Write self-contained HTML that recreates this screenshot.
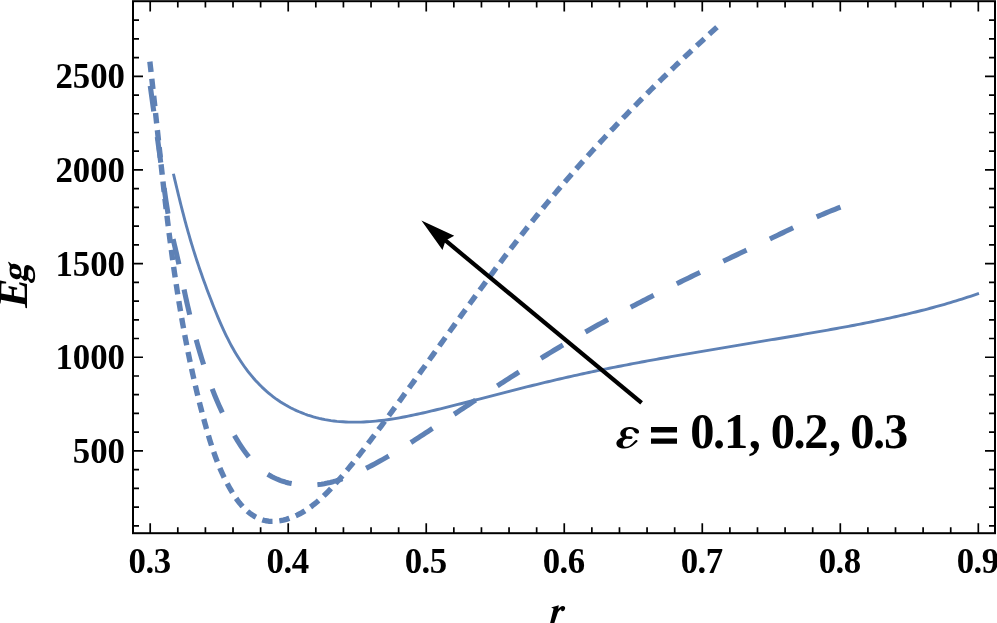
<!DOCTYPE html>
<html><head><meta charset="utf-8"><style>
html,body{margin:0;padding:0;background:#fff;overflow:hidden;width:997px;height:623px;}
svg{display:block;will-change:transform;font-family:"Liberation Serif",serif;}
</style></head><body>
<svg width="997" height="623" viewBox="0 0 997 623"><rect width="997" height="623" fill="#fff"/><g fill="none" stroke-linejoin="round"><path d="M173.41,173.75 L174.09,176.65 L174.77,179.55 L175.46,182.45 L176.15,185.36 L176.85,188.27 L177.55,191.18 L178.25,194.09 L178.96,197.00 L179.68,199.91 L180.40,202.83 L181.13,205.74 L181.87,208.65 L182.62,211.55 L183.37,214.46 L184.13,217.36 L184.90,220.27 L185.68,223.16 L186.47,226.06 L187.27,228.95 L188.08,231.84 L188.91,234.72 L189.74,237.60 L190.58,240.47 L191.44,243.34 L192.31,246.20 L193.19,249.06 L194.08,251.91 L194.99,254.76 L195.90,257.60 L196.83,260.44 L197.77,263.28 L198.72,266.11 L199.68,268.94 L200.65,271.76 L201.64,274.58 L202.63,277.40 L203.63,280.21 L204.65,283.02 L205.68,285.83 L206.71,288.64 L207.76,291.44 L208.82,294.25 L209.89,297.05 L210.97,299.84 L212.05,302.64 L213.15,305.44 L214.26,308.23 L215.39,311.02 L216.52,313.81 L217.68,316.59 L218.85,319.36 L220.03,322.12 L221.24,324.88 L222.47,327.62 L223.72,330.36 L225.00,333.08 L226.30,335.79 L227.63,338.48 L228.99,341.15 L230.38,343.81 L231.80,346.45 L233.26,349.07 L234.75,351.66 L236.28,354.24 L237.84,356.79 L239.45,359.32 L241.09,361.82 L242.78,364.29 L244.50,366.74 L246.27,369.15 L248.08,371.53 L249.94,373.87 L251.84,376.18 L253.78,378.44 L255.76,380.67 L257.79,382.85 L259.86,384.99 L261.98,387.09 L264.14,389.13 L266.35,391.13 L268.61,393.07 L270.91,394.96 L273.26,396.79 L275.65,398.57 L278.10,400.29 L280.59,401.94 L283.13,403.54 L285.71,405.07 L288.33,406.54 L290.98,407.95 L293.68,409.29 L296.41,410.57 L299.17,411.78 L301.96,412.92 L304.77,414.00 L307.61,415.01 L310.48,415.95 L313.36,416.83 L316.27,417.63 L319.19,418.36 L322.12,419.02 L325.07,419.61 L328.02,420.13 L330.99,420.59 L333.96,420.98 L336.94,421.32 L339.92,421.59 L342.91,421.81 L345.89,421.98 L348.88,422.09 L351.87,422.16 L354.85,422.17 L357.83,422.15 L360.81,422.08 L363.78,421.96 L366.76,421.81 L369.73,421.62 L372.70,421.38 L375.66,421.11 L378.63,420.81 L381.59,420.47 L384.55,420.10 L387.51,419.70 L390.46,419.27 L393.42,418.81 L396.37,418.32 L399.32,417.81 L402.26,417.27 L405.21,416.71 L408.15,416.14 L411.09,415.54 L414.03,414.92 L416.97,414.29 L419.91,413.64 L422.84,412.98 L425.77,412.31 L428.70,411.62 L431.63,410.93 L434.55,410.23 L437.48,409.52 L440.40,408.80 L443.32,408.09 L446.24,407.37 L449.16,406.64 L452.07,405.92 L454.99,405.19 L457.90,404.45 L460.81,403.72 L463.72,402.98 L466.63,402.25 L469.54,401.51 L472.44,400.76 L475.35,400.02 L478.25,399.28 L481.16,398.53 L484.06,397.79 L486.96,397.04 L489.87,396.30 L492.77,395.55 L495.67,394.81 L498.57,394.07 L501.47,393.32 L504.37,392.58 L507.28,391.84 L510.18,391.10 L513.08,390.36 L515.98,389.63 L518.88,388.90 L521.78,388.17 L524.68,387.44 L527.59,386.71 L530.49,385.99 L533.39,385.27 L536.30,384.56 L539.20,383.85 L542.11,383.14 L545.02,382.44 L547.93,381.74 L550.84,381.05 L553.75,380.36 L556.66,379.68 L559.57,379.00 L562.49,378.33 L565.40,377.66 L568.32,377.00 L571.24,376.35 L574.16,375.70 L577.08,375.05 L580.00,374.41 L582.93,373.78 L585.85,373.15 L588.78,372.52 L591.70,371.91 L594.63,371.29 L597.56,370.68 L600.49,370.08 L603.43,369.47 L606.36,368.88 L609.29,368.29 L612.23,367.70 L615.17,367.11 L618.10,366.53 L621.04,365.96 L623.98,365.38 L626.92,364.82 L629.86,364.25 L632.81,363.69 L635.75,363.13 L638.69,362.58 L641.64,362.03 L644.58,361.48 L647.53,360.93 L650.48,360.39 L653.42,359.85 L656.37,359.32 L659.32,358.79 L662.27,358.26 L665.22,357.73 L668.17,357.20 L671.12,356.68 L674.07,356.16 L677.03,355.64 L679.98,355.12 L682.93,354.61 L685.89,354.10 L688.84,353.59 L691.80,353.08 L694.75,352.57 L697.71,352.07 L700.66,351.56 L703.62,351.06 L706.58,350.56 L709.53,350.06 L712.49,349.56 L715.45,349.06 L718.41,348.57 L721.36,348.07 L724.32,347.58 L727.28,347.08 L730.24,346.59 L733.20,346.10 L736.16,345.60 L739.11,345.11 L742.07,344.62 L745.03,344.13 L747.99,343.64 L750.95,343.14 L753.91,342.65 L756.86,342.16 L759.82,341.67 L762.78,341.18 L765.74,340.68 L768.70,340.19 L771.65,339.69 L774.61,339.20 L777.57,338.70 L780.52,338.21 L783.48,337.71 L786.44,337.21 L789.39,336.71 L792.35,336.21 L795.30,335.71 L798.26,335.20 L801.21,334.70 L804.17,334.19 L807.12,333.68 L810.07,333.17 L813.02,332.66 L815.98,332.14 L818.93,331.63 L821.88,331.11 L824.83,330.59 L827.78,330.06 L830.73,329.53 L833.67,329.01 L836.62,328.47 L839.57,327.94 L842.51,327.40 L845.46,326.85 L848.40,326.31 L851.34,325.75 L854.28,325.20 L857.22,324.63 L860.16,324.07 L863.10,323.49 L866.03,322.92 L868.97,322.33 L871.90,321.74 L874.83,321.14 L877.76,320.54 L880.69,319.93 L883.62,319.31 L886.54,318.69 L889.47,318.06 L892.39,317.42 L895.31,316.77 L898.23,316.11 L901.14,315.45 L904.06,314.77 L906.97,314.09 L909.88,313.40 L912.79,312.69 L915.69,311.98 L918.60,311.26 L921.50,310.53 L924.40,309.79 L927.30,309.03 L930.19,308.27 L933.08,307.49 L935.97,306.70 L938.86,305.90 L941.74,305.09 L944.62,304.27 L947.50,303.43 L950.38,302.58 L953.25,301.72 L956.12,300.85 L958.99,299.96 L961.85,299.06 L964.72,298.14 L967.57,297.21 L970.43,296.27 L973.28,295.31 L976.13,294.33 L978.98,293.34" stroke="#5e81b5" stroke-width="2.9"/><path d="M150.13,85.01 L150.53,87.98 L150.94,90.95 L151.34,93.92 L151.75,96.88 L152.16,99.85 L152.57,102.82 L152.98,105.78 L153.39,108.75 L153.80,111.71 L154.21,114.68 L154.62,117.64 L155.04,120.61 L155.45,123.58 L155.86,126.54 L156.27,129.51 L156.68,132.47 L157.08,135.44 L157.49,138.41 L157.90,141.38 L158.30,144.34 L158.71,147.31 L159.11,150.28 L159.51,153.25 L159.91,156.22 L160.30,159.19 L160.70,162.16 L161.09,165.13 L161.48,168.11 L161.87,171.08 L162.26,174.05 L162.65,177.03 L163.05,180.00 L163.45,182.97 L163.85,185.94 L164.26,188.91 L164.67,191.88 L165.10,194.84 L165.53,197.81 L165.97,200.77 L166.42,203.73 L166.89,206.68 L167.36,209.64 L167.85,212.58 L168.36,215.53 L168.88,218.47 L169.42,221.41 L169.97,224.34 L170.55,227.26 L171.14,230.19 L171.76,233.10 L172.40,236.01 L173.05,238.92 L173.73,241.82 L174.41,244.71 L175.10,247.61 L175.78,250.51 L176.46,253.41 L177.13,256.31 L177.79,259.21 L178.44,262.12 L179.07,265.03 L179.69,267.94 L180.29,270.86 L180.89,273.78 L181.48,276.71 L182.06,279.63 L182.65,282.56 L183.25,285.50 L183.84,288.43 L184.45,291.36 L185.07,294.29 L185.71,297.23 L186.35,300.16 L187.01,303.09 L187.67,306.02 L188.35,308.95 L189.04,311.88 L189.74,314.81 L190.46,317.73 L191.18,320.65 L191.92,323.56 L192.66,326.48 L193.42,329.39 L194.19,332.29 L194.97,335.19 L195.75,338.09 L196.55,340.98 L197.37,343.86 L198.19,346.74 L199.02,349.61 L199.87,352.48 L200.73,355.34 L201.60,358.19 L202.49,361.04 L203.39,363.88 L204.31,366.71 L205.25,369.54 L206.20,372.36 L207.17,375.18 L208.16,377.98 L209.16,380.79 L210.19,383.58 L211.24,386.36 L212.30,389.14 L213.39,391.92 L214.50,394.68 L215.63,397.43 L216.79,400.18 L217.97,402.92 L219.17,405.66 L220.40,408.38 L221.66,411.10 L222.94,413.80 L224.25,416.50 L225.58,419.19 L226.95,421.88 L228.34,424.55 L229.77,427.22 L231.22,429.87 L232.70,432.52 L234.22,435.16 L235.76,437.78 L237.34,440.40 L238.96,442.99 L240.62,445.57 L242.32,448.10 L244.06,450.60 L245.85,453.06 L247.69,455.46 L249.58,457.81 L251.53,460.09 L253.53,462.31 L255.60,464.44 L257.73,466.50 L259.93,468.46 L262.19,470.33 L264.53,472.10 L266.94,473.76 L269.42,475.30 L271.98,476.73 L274.61,478.04 L277.30,479.24 L280.05,480.33 L282.85,481.30 L285.70,482.17 L288.58,482.92 L291.50,483.56 L294.45,484.10 L297.42,484.52 L300.41,484.84 L303.42,485.06 L306.43,485.16 L309.44,485.17 L312.44,485.07 L315.44,484.87 L318.42,484.57 L321.38,484.17 L324.33,483.67 L327.26,483.09 L330.17,482.42 L333.06,481.67 L335.94,480.85 L338.80,479.96 L341.65,479.00 L344.48,477.98 L347.29,476.90 L350.09,475.77 L352.87,474.59 L355.63,473.36 L358.38,472.10 L361.11,470.81 L363.83,469.48 L366.53,468.13 L369.22,466.76 L371.89,465.37 L374.55,463.96 L377.20,462.53 L379.83,461.09 L382.45,459.63 L385.06,458.15 L387.65,456.66 L390.24,455.15 L392.81,453.63 L395.38,452.10 L397.94,450.55 L400.49,449.00 L403.03,447.43 L405.57,445.85 L408.09,444.26 L410.62,442.67 L413.13,441.07 L415.65,439.45 L418.16,437.84 L420.66,436.22 L423.16,434.59 L425.66,432.96 L428.16,431.32 L430.66,429.69 L433.16,428.05 L435.65,426.41 L438.15,424.76 L440.65,423.12 L443.14,421.48 L445.64,419.83 L448.14,418.19 L450.63,416.54 L453.13,414.89 L455.63,413.25 L458.13,411.60 L460.63,409.95 L463.13,408.30 L465.63,406.66 L468.13,405.01 L470.63,403.37 L473.13,401.72 L475.64,400.08 L478.14,398.43 L480.65,396.79 L483.16,395.15 L485.66,393.51 L488.17,391.87 L490.68,390.24 L493.20,388.60 L495.71,386.97 L498.22,385.34 L500.74,383.71 L503.26,382.08 L505.78,380.46 L508.30,378.84 L510.83,377.22 L513.35,375.61 L515.88,374.00 L518.41,372.39 L520.94,370.78 L523.48,369.18 L526.01,367.58 L528.55,365.99 L531.09,364.40 L533.63,362.81 L536.18,361.23 L538.73,359.65 L541.28,358.08 L543.83,356.51 L546.39,354.95 L548.95,353.39 L551.51,351.84 L554.08,350.29 L556.65,348.74 L559.22,347.21 L561.79,345.67 L564.37,344.15 L566.95,342.63 L569.54,341.11 L572.12,339.60 L574.71,338.10 L577.31,336.60 L579.90,335.11 L582.50,333.62 L585.11,332.14 L587.71,330.66 L590.32,329.19 L592.93,327.73 L595.55,326.27 L598.17,324.81 L600.79,323.36 L603.41,321.92 L606.03,320.48 L608.66,319.04 L611.29,317.61 L613.93,316.18 L616.56,314.76 L619.20,313.34 L621.84,311.93 L624.48,310.52 L627.13,309.12 L629.78,307.72 L632.43,306.33 L635.08,304.94 L637.73,303.55 L640.39,302.17 L643.05,300.79 L645.71,299.42 L648.37,298.05 L651.04,296.68 L653.71,295.32 L656.37,293.96 L659.05,292.60 L661.72,291.25 L664.39,289.90 L667.07,288.56 L669.75,287.22 L672.43,285.88 L675.11,284.55 L677.79,283.22 L680.48,281.89 L683.16,280.56 L685.85,279.24 L688.54,277.92 L691.23,276.61 L693.92,275.29 L696.62,273.98 L699.31,272.68 L702.01,271.37 L704.71,270.07 L707.41,268.77 L710.11,267.48 L712.81,266.18 L715.51,264.89 L718.21,263.60 L720.91,262.30 L723.62,261.02 L726.32,259.73 L729.03,258.44 L731.73,257.15 L734.44,255.87 L737.14,254.58 L739.85,253.30 L742.55,252.01 L745.26,250.73 L747.96,249.44 L750.66,248.15 L753.37,246.86 L756.07,245.58 L758.77,244.28 L761.48,242.99 L764.18,241.70 L766.88,240.41 L769.58,239.11 L772.27,237.81 L774.97,236.51 L777.67,235.21 L780.36,233.91 L783.06,232.61 L785.76,231.31 L788.46,230.01 L791.16,228.72 L793.86,227.43 L796.57,226.15 L799.28,224.87 L801.99,223.60 L804.70,222.34 L807.42,221.09 L810.15,219.85 L812.88,218.62 L815.61,217.40 L818.35,216.19 L821.10,215.00 L823.85,213.82 L826.61,212.65 L829.38,211.50 L832.16,210.37 L834.94,209.26 L837.74,208.16 L840.54,207.09" stroke="#5e81b5" stroke-width="5.1" stroke-dasharray="25.8 25.867" stroke-dashoffset="50.86"/><path d="M149.86,61.53 L150.20,64.49 L150.54,67.45 L150.87,70.41 L151.21,73.37 L151.54,76.34 L151.87,79.30 L152.20,82.27 L152.53,85.23 L152.86,88.20 L153.18,91.17 L153.51,94.14 L153.83,97.11 L154.15,100.08 L154.47,103.06 L154.79,106.03 L155.11,109.01 L155.43,111.98 L155.75,114.96 L156.07,117.94 L156.39,120.92 L156.71,123.89 L157.03,126.87 L157.35,129.85 L157.67,132.83 L157.99,135.82 L158.31,138.80 L158.63,141.78 L158.95,144.76 L159.27,147.75 L159.59,150.73 L159.91,153.72 L160.23,156.70 L160.56,159.69 L160.88,162.67 L161.21,165.66 L161.54,168.64 L161.87,171.63 L162.20,174.61 L162.53,177.60 L162.86,180.59 L163.20,183.57 L163.53,186.56 L163.87,189.55 L164.21,192.53 L164.56,195.52 L164.90,198.51 L165.25,201.49 L165.60,204.48 L165.95,207.46 L166.31,210.45 L166.67,213.44 L167.03,216.42 L167.39,219.40 L167.76,222.39 L168.13,225.37 L168.50,228.36 L168.88,231.34 L169.25,234.32 L169.64,237.30 L170.02,240.29 L170.41,243.27 L170.81,246.25 L171.20,249.23 L171.61,252.21 L172.01,255.18 L172.42,258.16 L172.83,261.14 L173.25,264.11 L173.67,267.09 L174.10,270.06 L174.53,273.04 L174.97,276.01 L175.41,278.98 L175.85,281.95 L176.30,284.92 L176.76,287.89 L177.22,290.86 L177.68,293.82 L178.16,296.79 L178.63,299.75 L179.11,302.71 L179.60,305.67 L180.09,308.63 L180.59,311.59 L181.10,314.55 L181.61,317.51 L182.13,320.46 L182.65,323.41 L183.18,326.36 L183.71,329.31 L184.26,332.26 L184.81,335.21 L185.36,338.15 L185.92,341.10 L186.49,344.04 L187.07,346.98 L187.65,349.92 L188.24,352.85 L188.84,355.79 L189.44,358.72 L190.05,361.65 L190.67,364.58 L191.30,367.51 L191.94,370.43 L192.58,373.35 L193.23,376.28 L193.89,379.19 L194.55,382.11 L195.23,385.03 L195.91,387.94 L196.60,390.85 L197.30,393.76 L198.01,396.66 L198.72,399.56 L199.45,402.47 L200.18,405.36 L200.93,408.26 L201.68,411.15 L202.44,414.04 L203.21,416.93 L203.99,419.82 L204.78,422.70 L205.58,425.58 L206.39,428.46 L207.21,431.34 L208.04,434.21 L208.89,437.07 L209.76,439.94 L210.65,442.79 L211.57,445.64 L212.50,448.48 L213.47,451.32 L214.46,454.15 L215.48,456.97 L216.53,459.78 L217.62,462.58 L218.74,465.37 L219.90,468.16 L221.10,470.93 L222.35,473.69 L223.63,476.43 L224.97,479.17 L226.35,481.89 L227.78,484.60 L229.26,487.29 L230.80,489.97 L232.39,492.63 L234.04,495.25 L235.76,497.82 L237.56,500.34 L239.42,502.77 L241.36,505.12 L243.39,507.37 L245.51,509.50 L247.71,511.50 L250.02,513.37 L252.42,515.07 L254.92,516.61 L257.52,517.97 L260.21,519.12 L262.96,520.06 L265.79,520.75 L268.66,521.20 L271.58,521.39 L274.52,521.34 L277.47,521.09 L280.40,520.65 L283.31,520.05 L286.18,519.31 L288.99,518.43 L291.75,517.44 L294.47,516.33 L297.14,515.11 L299.76,513.78 L302.33,512.35 L304.87,510.83 L307.36,509.21 L309.81,507.51 L312.22,505.74 L314.59,503.88 L316.92,501.97 L319.22,499.98 L321.48,497.95 L323.71,495.86 L325.91,493.72 L328.08,491.54 L330.22,489.33 L332.32,487.09 L334.41,484.82 L336.46,482.53 L338.49,480.23 L340.50,477.93 L342.49,475.61 L344.46,473.29 L346.40,470.97 L348.33,468.64 L350.24,466.31 L352.14,463.97 L354.02,461.62 L355.88,459.27 L357.74,456.92 L359.58,454.56 L361.41,452.20 L363.23,449.84 L365.05,447.47 L366.85,445.10 L368.66,442.72 L370.45,440.34 L372.25,437.96 L374.04,435.58 L375.83,433.19 L377.61,430.80 L379.40,428.41 L381.18,426.02 L382.96,423.62 L384.74,421.22 L386.51,418.82 L388.29,416.42 L390.06,414.01 L391.83,411.60 L393.59,409.19 L395.36,406.78 L397.13,404.37 L398.89,401.95 L400.65,399.54 L402.41,397.12 L404.17,394.70 L405.93,392.28 L407.68,389.85 L409.44,387.43 L411.19,385.00 L412.95,382.58 L414.70,380.15 L416.45,377.72 L418.20,375.29 L419.96,372.86 L421.71,370.42 L423.46,367.99 L425.21,365.56 L426.96,363.12 L428.71,360.69 L430.45,358.25 L432.20,355.82 L433.95,353.38 L435.70,350.95 L437.45,348.51 L439.20,346.07 L440.95,343.64 L442.70,341.20 L444.45,338.76 L446.21,336.33 L447.96,333.89 L449.71,331.45 L451.47,329.02 L453.22,326.58 L454.98,324.15 L456.73,321.71 L458.49,319.28 L460.25,316.85 L462.01,314.42 L463.77,311.99 L465.54,309.56 L467.30,307.13 L469.07,304.70 L470.84,302.27 L472.61,299.85 L474.38,297.42 L476.15,295.00 L477.93,292.58 L479.71,290.16 L481.49,287.74 L483.27,285.32 L485.05,282.91 L486.84,280.50 L488.63,278.08 L490.42,275.67 L492.22,273.27 L494.01,270.86 L495.81,268.46 L497.62,266.06 L499.42,263.66 L501.23,261.26 L503.04,258.87 L504.86,256.48 L506.68,254.09 L508.50,251.71 L510.32,249.32 L512.15,246.94 L513.98,244.56 L515.82,242.19 L517.66,239.82 L519.50,237.45 L521.35,235.08 L523.20,232.72 L525.06,230.36 L526.91,228.01 L528.78,225.66 L530.65,223.31 L532.52,220.96 L534.39,218.62 L536.28,216.29 L538.16,213.95 L540.05,211.62 L541.95,209.30 L543.85,206.98 L545.75,204.66 L547.66,202.35 L549.57,200.04 L551.49,197.73 L553.42,195.43 L555.35,193.13 L557.28,190.84 L559.22,188.55 L561.16,186.27 L563.11,183.99 L565.07,181.71 L567.02,179.44 L568.99,177.17 L570.95,174.91 L572.93,172.65 L574.90,170.39 L576.88,168.14 L578.87,165.89 L580.86,163.65 L582.85,161.41 L584.85,159.17 L586.85,156.94 L588.86,154.71 L590.87,152.49 L592.89,150.27 L594.91,148.05 L596.94,145.84 L598.97,143.63 L601.00,141.43 L603.04,139.23 L605.08,137.03 L607.13,134.84 L609.18,132.65 L611.23,130.46 L613.29,128.28 L615.35,126.10 L617.42,123.93 L619.49,121.76 L621.56,119.59 L623.64,117.43 L625.72,115.27 L627.81,113.12 L629.90,110.96 L631.99,108.82 L634.09,106.67 L636.19,104.53 L638.30,102.39 L640.41,100.26 L642.52,98.13 L644.63,96.01 L646.75,93.88 L648.88,91.76 L651.00,89.65 L653.13,87.54 L655.27,85.43 L657.41,83.33 L659.55,81.22 L661.69,79.13 L663.84,77.03 L665.99,74.94 L668.14,72.86 L670.30,70.77 L672.46,68.69 L674.63,66.62 L676.79,64.54 L678.96,62.47 L681.14,60.41 L683.32,58.34 L685.50,56.28 L687.68,54.23 L689.87,52.18 L692.05,50.13 L694.25,48.08 L696.44,46.04 L698.64,44.00 L700.84,41.96 L703.05,39.93 L705.25,37.90 L707.46,35.88 L709.68,33.85 L711.89,31.83 L714.11,29.82 L716.33,27.80 L718.55,25.80" stroke="#5e81b5" stroke-width="5.4" stroke-dasharray="10.4 6.827" stroke-dashoffset="17.1"/></g><path d="M150.20,533.2v-10M150.20,1.2v10.3M177.80,533.2v-6M177.80,1.2v6.3M205.41,533.2v-6M205.41,1.2v6.3M233.01,533.2v-6M233.01,1.2v6.3M260.62,533.2v-6M260.62,1.2v6.3M288.22,533.2v-10M288.22,1.2v10.3M315.82,533.2v-6M315.82,1.2v6.3M343.43,533.2v-6M343.43,1.2v6.3M371.03,533.2v-6M371.03,1.2v6.3M398.64,533.2v-6M398.64,1.2v6.3M426.24,533.2v-10M426.24,1.2v10.3M453.84,533.2v-6M453.84,1.2v6.3M481.45,533.2v-6M481.45,1.2v6.3M509.05,533.2v-6M509.05,1.2v6.3M536.66,533.2v-6M536.66,1.2v6.3M564.26,533.2v-10M564.26,1.2v10.3M591.86,533.2v-6M591.86,1.2v6.3M619.47,533.2v-6M619.47,1.2v6.3M647.07,533.2v-6M647.07,1.2v6.3M674.68,533.2v-6M674.68,1.2v6.3M702.28,533.2v-10M702.28,1.2v10.3M729.88,533.2v-6M729.88,1.2v6.3M757.49,533.2v-6M757.49,1.2v6.3M785.09,533.2v-6M785.09,1.2v6.3M812.70,533.2v-6M812.70,1.2v6.3M840.30,533.2v-10M840.30,1.2v10.3M867.90,533.2v-6M867.90,1.2v6.3M895.51,533.2v-6M895.51,1.2v6.3M923.11,533.2v-6M923.11,1.2v6.3M950.72,533.2v-6M950.72,1.2v6.3M978.32,533.2v-10M978.32,1.2v10.3M133.0,525.82h6M995.0,525.82h-6M133.0,507.09h6M995.0,507.09h-6M133.0,488.36h6M995.0,488.36h-6M133.0,469.63h6M995.0,469.63h-6M133.0,450.90h10M995.0,450.90h-10M133.0,432.17h6M995.0,432.17h-6M133.0,413.44h6M995.0,413.44h-6M133.0,394.71h6M995.0,394.71h-6M133.0,375.98h6M995.0,375.98h-6M133.0,357.25h10M995.0,357.25h-10M133.0,338.52h6M995.0,338.52h-6M133.0,319.79h6M995.0,319.79h-6M133.0,301.06h6M995.0,301.06h-6M133.0,282.33h6M995.0,282.33h-6M133.0,263.60h10M995.0,263.60h-10M133.0,244.87h6M995.0,244.87h-6M133.0,226.14h6M995.0,226.14h-6M133.0,207.41h6M995.0,207.41h-6M133.0,188.68h6M995.0,188.68h-6M133.0,169.95h10M995.0,169.95h-10M133.0,151.22h6M995.0,151.22h-6M133.0,132.49h6M995.0,132.49h-6M133.0,113.76h6M995.0,113.76h-6M133.0,95.03h6M995.0,95.03h-6M133.0,76.30h10M995.0,76.30h-10M133.0,57.57h6M995.0,57.57h-6M133.0,38.84h6M995.0,38.84h-6M133.0,20.11h6M995.0,20.11h-6" stroke="#000" stroke-width="1.7" fill="none"/><rect x="133.0" y="1.2" width="862.0" height="532.0" fill="none" stroke="#000" stroke-width="2"/><line x1="641.6" y1="402.9" x2="443.28" y2="238.71" stroke="#000" stroke-width="4.2"/><path d="M421.4,220.6L454.23,235.83L445.59,240.62L442.49,250.01Z" fill="#000"/><g font-family="Liberation Serif" font-weight="bold" font-size="34.8" fill="#000"><text transform="translate(149.60,572.5) scale(1,1.03)" text-anchor="middle" letter-spacing="-0.5">0.3</text><text transform="translate(287.62,572.5) scale(1,1.03)" text-anchor="middle" letter-spacing="-0.5">0.4</text><text transform="translate(425.64,572.5) scale(1,1.03)" text-anchor="middle" letter-spacing="-0.5">0.5</text><text transform="translate(563.66,572.5) scale(1,1.03)" text-anchor="middle" letter-spacing="-0.5">0.6</text><text transform="translate(701.68,572.5) scale(1,1.03)" text-anchor="middle" letter-spacing="-0.5">0.7</text><text transform="translate(839.70,572.5) scale(1,1.03)" text-anchor="middle" letter-spacing="-0.5">0.8</text><text transform="translate(977.72,572.5) scale(1,1.03)" text-anchor="middle" letter-spacing="-0.5">0.9</text><text transform="translate(125.0,462.90) scale(1,1.03)" text-anchor="end">500</text><text transform="translate(125.0,369.25) scale(1,1.03)" text-anchor="end">1000</text><text transform="translate(125.0,275.60) scale(1,1.03)" text-anchor="end">1500</text><text transform="translate(125.0,181.95) scale(1,1.03)" text-anchor="end">2000</text><text transform="translate(125.0,88.30) scale(1,1.03)" text-anchor="end">2500</text></g><path d="M551.1,607.6L558.8,605.3L558.2,609.0C559.5,607.5 561,606 563,605.9C564.8,605.9 565.3,607.3 565.1,608.5C564.8,610 563.6,611.5 562.3,611.3C561.2,611.1 561,610 561.2,609.2C559.8,609.8 558.6,611 557.8,612.5L554.0,624L549.9,624L553.6,608.8C552.8,608.2 551.8,608 551.1,607.6Z" fill="#000"/><g transform="translate(26.5,307.9) rotate(-90)" font-family="Liberation Serif" font-weight="bold"><text transform="scale(1.06,1)" font-style="italic" font-size="42">E</text><text transform="translate(24.9,0) skewX(-12)" font-size="37">g</text></g><path transform="translate(614,424) scale(0.04335)" d="M578,185C578,150 550,120 500,100C450,80 400,70 350,72C250,78 160,130 145,210C140,255 165,290 200,305C120,330 55,380 55,450C55,520 130,565 240,565C360,565 450,490 535,410C555,390 540,360 505,368C470,380 400,515 280,525C215,528 195,480 205,430C215,380 250,345 300,342L385,345C432,345 445,290 400,282L300,280C270,270 265,200 290,150C315,110 400,100 440,140C460,165 470,200 500,215C540,232 578,215 578,185Z" fill="#000"/><path d="M651,427.1h26v5.4h-26zM651,438.5h26v5.2h-26z" fill="#000"/><text transform="translate(0,448.2) scale(1,1.045)" x="690.35 713.07 723.92 748.66 770.80 793.52 804.37 829.11 850.35 873.07 883.92" y="0" font-family="Liberation Serif" font-weight="bold" font-size="48.5">0.1,0.2,0.3</text></svg>
</body></html>
